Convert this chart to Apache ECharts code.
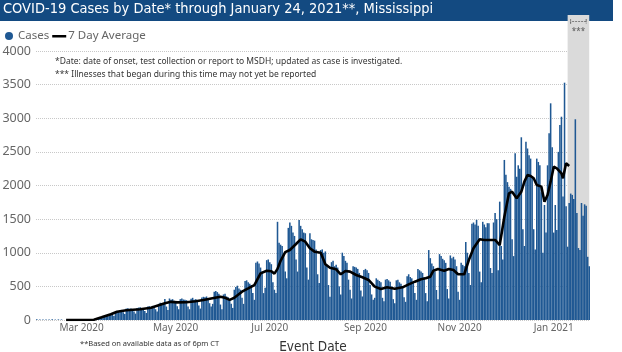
<!DOCTYPE html>
<html>
<head>
<meta charset="utf-8">
<title>COVID-19 Cases by Date, Mississippi</title>
<script src="https://cdn.jsdelivr.net/npm/echarts@6/dist/echarts.min.js"></script>
<style>
  html, body { margin: 0; padding: 0; background: #fff; }
  #chart { width: 622px; height: 352px; }
</style>
</head>
<body>
<div id="chart"></div>
<script>
// daily cases by event date, first value is Sat Feb 1, 2020
const startDate = '2020-02-01'
const cases = [
  10, 0, 8, 0, 9, 0, 7,
  0, 8, 0, 10, 0, 7, 0,
  9, 0, 8, 0, 0, 0, 0,
  0, 0, 1, 0, 1, 2, 1,
  1, 2, 3, 2, 4, 5, 6,
  4, 3, 10, 16, 24, 32, 40,
  38, 30, 65, 72, 82, 88, 98,
  80, 60, 125, 135, 130, 140, 150,
  115, 90, 170, 175, 165, 172, 160,
  125, 95, 180, 185, 190, 175, 150,
  135, 105, 200, 205, 190, 210, 200,
  160, 125, 240, 255, 250, 240, 312,
  200, 150, 320, 300, 310, 285, 275,
  205, 160, 310, 320, 305, 300, 295,
  200, 160, 315, 330, 300, 310, 285,
  215, 170, 335, 345, 340, 350, 310,
  250, 200, 240, 420, 430, 415, 390,
  230, 160, 380, 390, 350, 340, 290,
  240, 180, 450, 490, 510, 470, 450,
  330, 240, 580, 590, 560, 540, 520,
  400, 300, 850, 870, 840, 780, 720,
  400, 480, 890, 900, 860, 830, 560,
  450, 400, 1460, 1150, 1120, 1100, 980,
  720, 620, 1370, 1450, 1400, 1300, 1250,
  900, 720, 1487, 1400, 1350, 1300, 1290,
  780, 600, 1290, 1200, 1190, 1180, 1050,
  680, 550, 1040, 1050, 1000, 1020, 820,
  520, 347, 860, 880, 800, 820, 780,
  500, 380, 1001, 950, 880, 850, 600,
  450, 320, 800, 790, 780, 760, 700,
  440, 350, 745, 760, 740, 700, 520,
  380, 300, 330, 620, 600, 580, 560,
  330, 280, 600, 610, 590, 570, 500,
  310, 250, 590, 600, 560, 540, 500,
  340, 270, 650, 680, 640, 620, 560,
  400, 300, 760, 740, 720, 700, 640,
  400, 280, 1040, 920, 840, 800, 720,
  446, 310, 980, 950, 910, 890, 850,
  460, 320, 960, 920, 940, 900, 800,
  420, 300, 850, 820, 800, 1160, 1000,
  700, 520, 1430, 1450, 1420, 1490, 1400,
  720, 560, 1460, 1420, 1380, 1440, 1440,
  773, 700, 1450, 1590, 1500, 740, 1760,
  1100, 900, 2380, 2160, 2050, 1980, 1950,
  1200, 950, 2480, 2130, 2300, 2250, 2717,
  1350, 1100, 2652, 2550, 2450, 2400, 2130,
  1350, 1050, 2400, 2350, 2300, 1900, 1000,
  1710, 1300, 2300, 2776, 3222, 2570, 1300,
  1710, 1340, 2500, 2900, 3023, 1835, 3529,
  1690, 1090, 1740, 1880, 1860, 1800, 2985,
  1590, 1070, 1040, 1740, 1550, 1720, 1700,
  940, 800
]

// 7 day average, read at roughly every third day
const avgDates = [
  '2020-02-20', '2020-03-09', '2020-03-14', '2020-03-20', '2020-03-24', '2020-03-30',
  '2020-04-08', '2020-04-15', '2020-04-19', '2020-04-24', '2020-04-28', '2020-05-02',
  '2020-05-08', '2020-05-14', '2020-05-19', '2020-05-24', '2020-05-30', '2020-06-02',
  '2020-06-05', '2020-06-08', '2020-06-13', '2020-06-17', '2020-06-21', '2020-06-25',
  '2020-06-29', '2020-07-02', '2020-07-04', '2020-07-06', '2020-07-08', '2020-07-11',
  '2020-07-14', '2020-07-18', '2020-07-21', '2020-07-24', '2020-07-27', '2020-07-30',
  '2020-08-03', '2020-08-06', '2020-08-09', '2020-08-13', '2020-08-16', '2020-08-19',
  '2020-08-22', '2020-08-26', '2020-08-30', '2020-09-03', '2020-09-07', '2020-09-11',
  '2020-09-15', '2020-09-20', '2020-09-25', '2020-09-29', '2020-10-03', '2020-10-07',
  '2020-10-10', '2020-10-13', '2020-10-15', '2020-10-18', '2020-10-22', '2020-10-25',
  '2020-10-28', '2020-10-31', '2020-11-04', '2020-11-07', '2020-11-10', '2020-11-14',
  '2020-11-17', '2020-11-21', '2020-11-24', '2020-11-27', '2020-11-30', '2020-12-03',
  '2020-12-05', '2020-12-08', '2020-12-11', '2020-12-13', '2020-12-15', '2020-12-17',
  '2020-12-19', '2020-12-21', '2020-12-24', '2020-12-26', '2020-12-28', '2020-12-30',
  '2021-01-01', '2021-01-03', '2021-01-06', '2021-01-07', '2021-01-09', '2021-01-11'
]
const avgValues = [
  0, 3, 40, 85, 123, 144,
  159, 183, 213, 248, 270, 262,
  263, 280, 297, 320, 347, 330,
  300, 330, 421, 470, 520, 694,
  733, 725, 690, 760, 880, 1010,
  1041, 1130, 1200, 1165, 1066, 1016,
  1001, 828, 778, 754, 680, 729,
  719, 669, 635, 595, 496, 461,
  486, 466, 486, 530, 570, 605,
  620, 644, 733, 758, 733, 758,
  744, 680, 680, 892, 1066, 1200,
  1190, 1190, 1190, 1115, 1536, 1884,
  1908, 1809, 1908, 2057, 2156, 2141,
  2107, 2007, 1983, 1760, 1859, 2057,
  2280, 2256, 2181, 2107, 2330, 2290
]

// x tick labels and the "may not yet be reported" window
const labelDates = ['2020-03-01', '2020-05-01', '2020-07-01', '2020-09-01', '2020-11-01', '2021-01-01']
const labelText = ['Mar 2020', 'May 2020', 'Jul 2020', 'Sep 2020', 'Nov 2020', 'Jan 2021']
const lateStart = '2021-01-10'
const lateEnd = '2021-01-24'
const yMax = 4000
const yStep = 500

function dayList(start, n) {
  const out = []
  const d = new Date(start + 'T00:00:00Z')
  for (let i = 0; i < n; i++) {
    out.push(d.toISOString().slice(0, 10))
    d.setUTCDate(d.getUTCDate() + 1)
  }
  return out
}
const days = dayList(startDate, cases.length)

const uiFont = "'Noto Sans', 'Open Sans', sans-serif"
const narrowFont = "'Liberation Sans Narrow', 'DejaVu Sans Condensed', 'DejaVu Sans', sans-serif"
const barColor = '#1f5893'
// thin dash for the average in the legend (tiny corner specks keep its box 14x8)
const dashIcon = 'path://M0,0L0.01,0L0,0.01Z M0,3L14,3L14,5.4L0,5.4Z M14,8L13.99,8L14,7.99Z'

const chart = echarts.init(document.getElementById('chart'), null, { renderer: 'canvas' })
chart.setOption({
  animation: false,
  textStyle: { fontFamily: uiFont },
  title: {
    text: 'COVID-19 Cases by Date* through January 24, 2021**, Mississippi',
    left: 3,
    top: 2,
    padding: 0,
    textStyle: { color: '#fff', fontSize: 14.5, fontWeight: 'normal', fontFamily: narrowFont }
  },
  legend: {
    left: 0,
    top: 25,
    itemWidth: 14,
    itemHeight: 8,
    itemGap: 3,
    selectedMode: false,
    textStyle: { color: '#666', fontSize: 11.5, padding: [0, 0, 0, -3] },
    data: [
      { name: 'Cases', icon: 'circle' },
      { name: '7 Day Average', icon: dashIcon }
    ]
  },
  grid: { left: 36, right: 32, top: 51, bottom: 32, outerBoundsMode: 'none' },
  xAxis: {
    type: 'category',
    data: days,
    axisLine: { show: false },
    axisTick: { show: false },
    axisLabel: {
      interval: (i, v) => labelDates.includes(v),
      formatter: v => labelText[labelDates.indexOf(v)] || '',
      color: '#666',
      fontSize: 10,
      margin: 3
    },
    name: 'Event Date',
    nameLocation: 'middle',
    nameGap: 20,
    nameTextStyle: { color: '#333', fontSize: 13.5, fontFamily: narrowFont }
  },
  yAxis: {
    type: 'value',
    min: 0,
    max: yMax,
    interval: yStep,
    axisLabel: { color: '#666', fontSize: 12.5, margin: 5, formatter: v => String(v) },
    splitLine: { lineStyle: { type: 'dotted', color: '#c8c8c8' } }
  },
  series: [
    {
      name: 'late window',
      type: 'line',
      data: [],
      z: 0,
      silent: true,
      markArea: {
        silent: true,
        itemStyle: { color: '#dadada' },
        data: [[{ xAxis: lateStart }, { xAxis: lateEnd }]]
      }
    },
    {
      name: 'Cases',
      type: 'bar',
      data: cases,
      barCategoryGap: '0%',
      itemStyle: { color: barColor },
      z: 2
    },
    {
      name: '7 Day Average',
      type: 'line',
      data: avgDates.map((d, i) => [d, avgValues[i]]),
      symbol: 'none',
      lineStyle: { color: '#000', width: 2.6 },
      itemStyle: { color: '#000' },
      z: 3
    }
  ]
})

// decorations: title band, notes, and the top of the late window
const gx0 = chart.convertToPixel({ xAxisIndex: 0 }, lateStart)
const gx1 = chart.convertToPixel({ xAxisIndex: 0 }, lateEnd)
const gTop = chart.convertToPixel({ yAxisIndex: 0 }, yMax)
chart.setOption({
  graphic: [
    { id: 'band', type: 'rect', left: 0, top: 0, z: -1, shape: { width: 613, height: 21 }, style: { fill: '#134a81' } },
    { id: 'lateTop', type: 'rect', z: -1, shape: { x: gx0, y: 15, width: gx1 - gx0, height: gTop - 15 }, style: { fill: '#dadada' } },
    { id: 'brk', type: 'polyline', z: 5, shape: { points: [[gx0 + 3, 19], [gx0 + 3, 24], [gx0 + 3, 21.5], [gx1 - 3, 21.5], [gx1 - 3, 19], [gx1 - 3, 24]] }, style: { stroke: '#666', lineWidth: 0.8, fill: null, lineDash: [2, 1] } },
    { id: 'stars', type: 'text', z: 5, x: (gx0 + gx1) / 2, y: 28, style: { text: '***', fill: '#555', fontSize: 8, align: 'center', fontFamily: uiFont } },
    { id: 'note1', type: 'text', left: 55, top: 57, style: { text: '*Date: date of onset, test collection or report to MSDH; updated as case is investigated.', fill: '#333', fontSize: 8.5, fontFamily: uiFont } },
    { id: 'note2', type: 'text', left: 55, top: 70, style: { text: '*** Illnesses that began during this time may not yet be reported', fill: '#333', fontSize: 8.5, fontFamily: uiFont } },
    { id: 'note3', type: 'text', left: 80, top: 340, style: { text: '**Based on available data as of 6pm CT', fill: '#333', fontSize: 7.5, fontFamily: uiFont } }
  ]
})
</script>
</body>
</html>
